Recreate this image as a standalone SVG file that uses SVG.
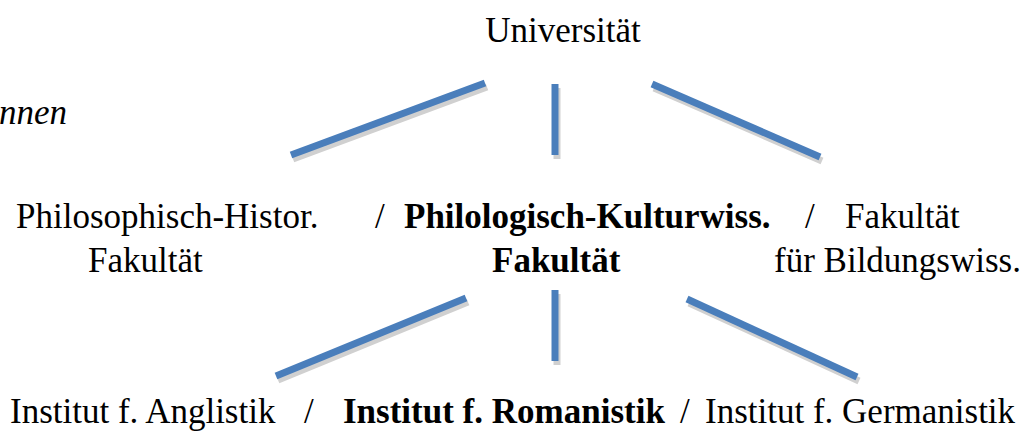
<svg xmlns="http://www.w3.org/2000/svg" width="1028" height="436" viewBox="0 0 1028 436">
<style>
.b{font-weight:bold}
.i{font-style:italic}
.ln{stroke:#4A7EBB;stroke-width:7;fill:none}
.sh{stroke:#D0D0D0;stroke-width:7;fill:none}
</style>
<rect width="1028" height="436" fill="#fff"/>
<g id="connectors">
<g transform="translate(2,4)">
<line class="sh" x1="291" y1="155" x2="485" y2="83"/>
<line class="sh" x1="555" y1="84" x2="555" y2="155"/>
<line class="sh" x1="652" y1="84" x2="820" y2="157"/>
<line class="sh" x1="276" y1="376" x2="466" y2="298"/>
<line class="sh" x1="555" y1="290" x2="555" y2="361"/>
<line class="sh" x1="687" y1="299" x2="857" y2="377"/>
</g>
<line class="ln" x1="291" y1="155" x2="485" y2="83"/>
<line class="ln" x1="555" y1="84" x2="555" y2="155"/>
<line class="ln" x1="652" y1="84" x2="820" y2="157"/>
<line class="ln" x1="276" y1="376" x2="466" y2="298"/>
<line class="ln" x1="555" y1="290" x2="555" y2="361"/>
<line class="ln" x1="687" y1="299" x2="857" y2="377"/>
</g>
<g font-family="'Liberation Serif', 'Times New Roman', serif" font-size="35" fill="#000">
<g id="universitaet"><text x="563" y="42" text-anchor="middle">Universität</text></g>
<g id="innen"><text class="i" x="-1" y="124">nnen</text></g>
<g id="faculties">
<text x="16" y="228">Philosophisch-Histor.</text>
<text x="375" y="228">/</text>
<text class="b" x="404" y="228">Philologisch-Kulturwiss.</text>
<text x="805" y="228">/</text>
<text x="845" y="228">Fakultät</text>
<text x="88" y="272">Fakultät</text>
<text class="b" x="492" y="272">Fakultät</text>
<text x="774" y="272">für Bildungswiss.</text>
</g>
<g id="institutes">
<text x="10" y="423">Institut f. Anglistik</text>
<text x="304" y="423">/</text>
<text class="b" x="343" y="423">Institut f. Romanistik</text>
<text x="680" y="423">/</text>
<text x="705" y="423">Institut f. Germanistik</text>
</g>
</g>
</svg>
